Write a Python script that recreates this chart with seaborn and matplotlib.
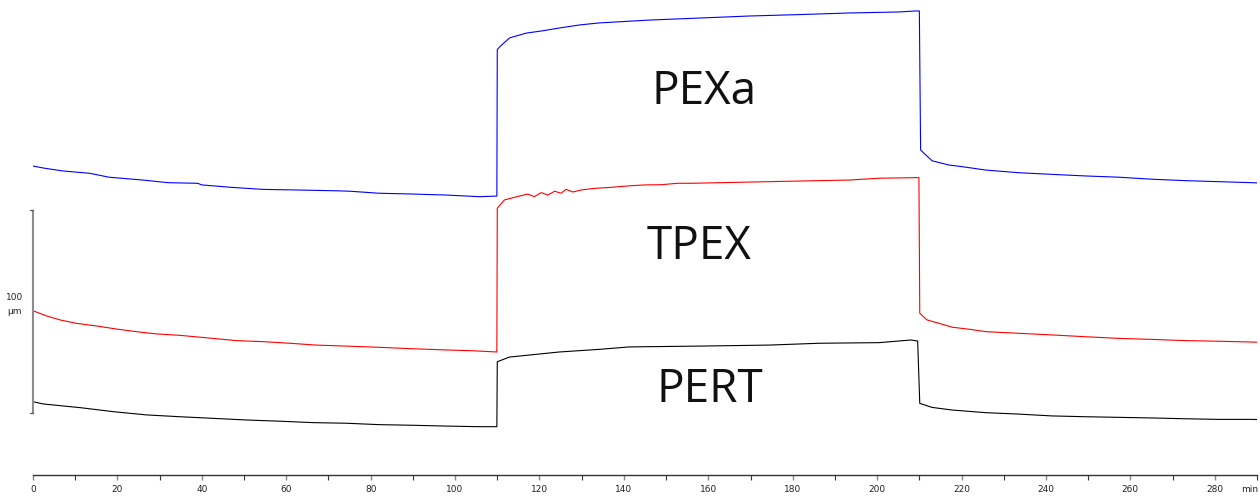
import numpy as np
import pandas as pd
import seaborn as sns
import matplotlib.pyplot as plt
from matplotlib.ticker import FixedLocator

# Thickness traces (time in min, thickness in µm, traces offset vertically)
pexa_t = [0, 2.5, 7, 13.5, 18, 26, 32, 39, 40, 47, 54.5, 62.5, 72, 75, 82, 90, 98, 105.8, 109.9,
          110.0, 110.5, 112.9, 116.9, 120.7, 124.7, 129.5, 134.2, 146, 157.9, 169.7, 181.5, 193.4,
          205.2, 209.2, 210.0, 210.3, 213, 217, 220.1, 225.8, 233.6, 241.4, 249.5, 257.3, 265.1,
          273.1, 280.9, 288.8, 290]
pexa_v = [152.2, 151.2, 149.8, 148.6, 146.7, 145.3, 144.0, 143.7, 142.9, 141.7, 140.7, 140.4, 140.0,
          139.8, 138.8, 138.4, 137.9, 137.1, 137.4,
          209.5, 210.8, 215.3, 217.7, 218.8, 220.2, 221.7, 222.7, 224.1, 225.1, 226.1, 226.8, 227.6,
          228.1, 228.6, 228.6, 160.1, 154.8, 152.7, 151.9, 150.2, 148.9, 148.1, 147.3, 146.7, 145.7,
          145.0, 144.5, 144.0, 143.9]

tpex_t = [0, 3.3, 6.4, 10.3, 15.1, 19.8, 24.5, 29.3, 34.8, 42.6, 48.2, 54.4, 60.8, 67.1, 74.2,
          82.1, 89.9, 97.9, 104.2, 109.9,
          110.0, 111.7, 114.1, 117.2, 118.8, 120.4, 122.0, 123.6, 125.1, 126.3, 127.9, 129.9, 133.0,
          137.0, 140.9, 144.9, 148.8, 152.7, 155.9, 169.7, 181.5, 193.4, 200.5, 209.9,
          210.1, 211.8, 214.7, 217.8, 221.8, 225.8, 233.6, 241.4, 249.5, 257.3, 265.1, 273.1, 280.9,
          288.8, 290]
tpex_v = [80.9, 78.3, 76.4, 74.7, 73.4, 71.9, 70.6, 69.5, 68.8, 67.3, 66.2, 65.7, 64.9, 64.0, 63.5,
          62.9, 62.2, 61.6, 61.2, 60.6,
          131.4, 135.5, 136.8, 138.4, 137.1, 139.1, 137.9, 139.8, 138.8, 140.7, 139.4, 140.4, 141.2,
          141.7, 142.4, 142.9, 143.0, 143.7, 143.7, 144.3, 144.8, 145.3, 146.2, 146.5,
          79.7, 76.4, 74.7, 72.8, 71.8, 70.6, 69.8, 69.0, 68.1, 67.3, 66.8, 66.2, 65.9,
          65.5, 65.4]

pert_t = [0, 2.4, 7.2, 11.1, 19.0, 26.9, 34.8, 42.7, 50.6, 58.5, 66.3, 74.2, 82.1, 90.0, 97.9,
          105.8, 109.9,
          110.0, 112.9, 117.6, 124.7, 134.2, 141.3, 157.9, 174.4, 186.3, 200.5, 208.0, 209.6,
          210.1, 213.0, 217.8, 225.8, 233.6, 241.4, 249.5, 257.3, 265.1, 273.1, 280.9, 288.8, 290]
pert_v = [36.1, 35.0, 34.0, 33.2, 31.2, 29.6, 28.7, 27.9, 27.1, 26.5, 25.8, 25.5, 24.8, 24.5, 24.1,
          23.8, 23.8,
          55.8, 58.1, 59.1, 60.6, 61.9, 63.1, 63.5, 64.0, 64.9, 65.2, 66.5, 66.0,
          35.3, 33.3, 32.0, 30.7, 30.0, 29.1, 28.7, 28.4, 28.1, 27.7, 27.4, 27.4, 27.3]

samples = ["PEXa", "TPEX", "PERT"]
colors = {"PEXa": "#0000ff", "TPEX": "#ff0000", "PERT": "#000000"}
label_pos = {"PEXa": (159.1, 182.8), "TPEX": (157.9, 106.4), "PERT": (160.4, 36.0)}

scale_bar = (30.5, 130.5)  # 100 µm scale bar

df = pd.concat([
    pd.DataFrame({"time": t, "thickness": v, "sample": name})
    for name, t, v in [("PEXa", pexa_t, pexa_v), ("TPEX", tpex_t, tpex_v), ("PERT", pert_t, pert_v)]
], ignore_index=True)

sns.set_theme(style="white")
plt.rcParams["font.family"] = ["DejaVu Sans"]

fig = plt.figure(figsize=(12.6, 5.0), dpi=100)
ax = fig.add_axes([33 / 1260, 25 / 500, 1224 / 1260, 475 / 500])

sns.lineplot(data=df, x="time", y="thickness", hue="sample", hue_order=samples,
             palette=colors, estimator=None, sort=False, legend=False,
             linewidth=0.8, ax=ax)

ax.set_xlim(0, 290)
ax.set_ylim(0, 475 / 2.03)
ax.set_xlabel("")
ax.set_ylabel("")
ax.set_yticks([])
sns.despine(ax=ax, left=True, top=True, right=True)
ax.spines["bottom"].set_color("#333333")
ax.spines["bottom"].set_linewidth(1.0)

ax.xaxis.set_major_locator(FixedLocator(np.arange(0, 281, 20)))
ax.xaxis.set_minor_locator(FixedLocator(np.arange(10, 291, 20)))
ax.tick_params(axis="x", which="both", direction="out", bottom=True, length=3.5,
               width=0.8, color="#333333", labelsize=6.5, labelcolor="#222222", pad=4)
ax.tick_params(axis="x", which="major", color="#888888", width=1.0)

ax.text(1.0 + 1 / 1224, -15 / 475, "min", transform=ax.transAxes, ha="right", va="center",
        fontsize=6.5, color="#222222", clip_on=False)

# Vertical scale bar with small caps
bx = 0.0
ax.plot([bx, bx], scale_bar, color="#8c8c8c", lw=1.5, clip_on=False, solid_capstyle="butt")
for yb in scale_bar:
    ax.plot([bx - 0.7, bx], [yb, yb], color="#555555", lw=0.9, clip_on=False)
ax.text(-18 / 1224, (475 - 298) / 475, "100", transform=ax.transAxes, ha="center",
        va="center", fontsize=6.5, color="#222222")
ax.text(-18 / 1224, (475 - 311) / 475, "µm", transform=ax.transAxes, ha="center",
        va="center", fontsize=6.5, color="#222222")

for name in samples:
    x, y = label_pos[name]
    ax.text(x, y, name, ha="center", va="baseline", fontsize=33,
            family=["Open Sans", "DejaVu Sans"], color="#111111")

fig.savefig("out.png", dpi=100)
